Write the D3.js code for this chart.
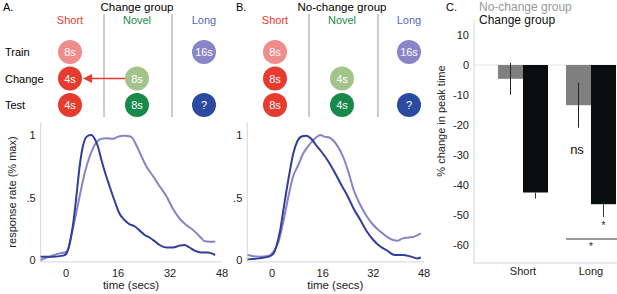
<!DOCTYPE html>
<html>
<head>
<meta charset="utf-8">
<script src="https://cdn.jsdelivr.net/npm/d3@7"></script>
<style>
  body { margin: 0; background: #fff; }
  text { font-family: "Liberation Sans", Arial, sans-serif; }
</style>
</head>
<body>
<svg id="chart" width="617" height="294"></svg>
<script>
// ---- data ----
const columns = ["Short", "Novel", "Long"];
const rows = ["Train", "Change", "Test"];

// [column, row, label]
const changeCells = [
  ["Short", "Train", "8s"], ["Short", "Change", "4s"], ["Short", "Test", "4s"],
  ["Novel", "Change", "8s"], ["Novel", "Test", "8s"],
  ["Long", "Train", "16s"], ["Long", "Test", "?"]
];
const noChangeCells = [
  ["Short", "Train", "8s"], ["Short", "Change", "8s"], ["Short", "Test", "8s"],
  ["Novel", "Change", "4s"], ["Novel", "Test", "4s"],
  ["Long", "Train", "16s"], ["Long", "Test", "?"]
];

const timeTicks = [0, 16, 32, 48];
const rateTicks = [0, 0.5, 1];
const rateTickLabels = ["0", ".5", "1"];

// response curves [time, rate]
const changeShortCurve = [[-7.8,0.027],[-4,0.027],[-0.9,0.035],[0.1,0.05],[1.1,0.13],[2.2,0.29],[3.2,0.51],[4.2,0.75],[5.2,0.91],[6.5,0.99],[7.8,1.0],[8.8,0.97],[9.8,0.91],[10.9,0.8],[11.9,0.71],[13.4,0.59],[15,0.47],[16.5,0.37],[18,0.32],[19.6,0.285],[21.1,0.27],[22.7,0.235],[24.2,0.2],[25.7,0.18],[27.3,0.15],[28.8,0.12],[30.9,0.1],[32.9,0.1],[35,0.115],[36.5,0.12],[38,0.1],[39.6,0.075],[41.6,0.06],[43.7,0.06],[45.9,0.04]];
const changeLongCurve = [[-7.8,0.0],[-5,0.027],[-2,0.053],[-0.4,0.06],[0.6,0.08],[1.6,0.19],[2.7,0.32],[4.2,0.51],[5.7,0.69],[7.3,0.83],[8.8,0.92],[10.4,0.965],[12.4,0.975],[14.5,0.97],[16,0.987],[18,0.995],[19.6,0.99],[20.6,0.97],[21.6,0.92],[23.2,0.83],[24.7,0.75],[26.8,0.67],[28.8,0.59],[30.9,0.51],[32.9,0.41],[35,0.33],[37,0.28],[39.1,0.24],[41.1,0.19],[42.7,0.15],[44.2,0.147],[45.9,0.147]];
const noChangeShortCurve = [[-7.7,0.005],[-4.1,0.013],[-1,0.027],[0.5,0.053],[1.5,0.12],[2.6,0.24],[3.6,0.4],[4.6,0.56],[5.7,0.72],[6.7,0.85],[8,0.95],[9.5,0.99],[10.8,0.995],[12.4,0.97],[13.9,0.92],[15.5,0.87],[17.5,0.8],[19.6,0.71],[21.7,0.61],[23.7,0.52],[25.8,0.41],[27.9,0.32],[29.9,0.23],[32,0.16],[34.1,0.11],[36.1,0.08],[38.7,0.04],[41.3,0.04],[43.9,0.027],[45.9,0.013],[47,0.02]];
const noChangeLongCurve = [[-7.7,0.04],[-4.1,0.027],[-1,0.035],[0.5,0.067],[2.1,0.15],[3.6,0.31],[5.2,0.51],[6.7,0.67],[8.3,0.76],[9.8,0.85],[11.4,0.91],[12.9,0.955],[14.4,0.99],[15.3,1.0],[16.5,0.987],[18.1,0.98],[19.6,0.95],[21.2,0.89],[22.7,0.81],[24.3,0.69],[25.8,0.56],[27.9,0.44],[29.9,0.35],[32,0.28],[34.1,0.23],[36.1,0.19],[38.2,0.16],[39.7,0.155],[41.3,0.173],[43.3,0.18],[44.9,0.187],[47,0.213]];

// panel C
const categories = ["Short", "Long"];
const noChangeValues = [-4.6, -13.4];
const noChangeErrors = [5.3, 7.5];
const changeValues = [-42.5, -46.4];
const changeErrors = [2.0, 4.3];
const peakTicks = [10, 0, -10, -20, -30, -40, -50, -60];

// ---- drawing ----
const svg = d3.select("#chart");
const red = "#e63b2e", green = "#1b8a48", blue = "#5468b2";
const headColor = { Short: red, Novel: green, Long: blue };

function cellColor(col, row) {
  if (col == "Short") return row == "Train" ? "#ef8c8c" : "#e63b2e";
  if (col == "Novel") return row == "Change" ? "#a2c48b" : "#17894a";
  return row == "Train" ? "#8985c6" : "#2c4a9f";
}

var yRow = d3.scalePoint().domain(rows).range([52, 105]);

function drawDesign(opts) {
  var g = svg.append("g");
  var xCol = d3.scalePoint().domain(columns).range(opts.colRange);

  g.append("text").attr("x", opts.letterX).attr("y", 11)
    .style("font-size", "11px").text(opts.letter);
  g.append("text").attr("x", xCol("Novel")).attr("y", 11)
    .attr("text-anchor", "middle").style("font-size", "11.5px").text(opts.title);

  g.selectAll(".head").data(columns).enter().append("text")
    .attr("x", d => xCol(d)).attr("y", 24)
    .attr("text-anchor", "middle").style("font-size", "11px")
    .style("fill", d => headColor[d]).text(d => d);

  g.selectAll(".sep").data(opts.seps).enter().append("line")
    .attr("x1", d => d).attr("x2", d => d).attr("y1", 14).attr("y2", 117)
    .style("stroke", "#9a9a9a").style("stroke-width", 1);

  if (opts.rowLabels) {
    g.selectAll(".row").data(rows).enter().append("text")
      .attr("x", 5).attr("y", d => yRow(d) + 4)
      .style("font-size", "11px").text(d => d);
  }

  var cells = g.selectAll(".cell").data(opts.cells).enter().append("g")
    .attr("transform", d => "translate(" + xCol(d[0]) + "," + yRow(d[1]) + ")");
  cells.append("circle").attr("r", 12).style("fill", d => cellColor(d[0], d[1]));
  cells.append("text").attr("y", 4).attr("text-anchor", "middle")
    .style("font-size", "11px").style("fill", "#fff").text(d => d[2]);

  if (opts.arrow) {
    var ay = yRow("Change");
    var x0 = xCol("Novel") - 12, x1 = xCol("Short") + 13;
    g.append("line").attr("x1", x0).attr("x2", x1 + 8).attr("y1", ay).attr("y2", ay)
      .style("stroke", red).style("stroke-width", 1.5);
    g.append("path")
      .attr("d", "M" + x1 + "," + ay + "L" + (x1 + 9) + "," + (ay - 4.5) + "L" + (x1 + 9) + "," + (ay + 4.5) + "Z")
      .style("fill", red);
  }
}

drawDesign({ letter: "A.", letterX: 3, title: "Change group", colRange: [70, 204],
  seps: [104, 172], cells: changeCells, rowLabels: true, arrow: true });
drawDesign({ letter: "B.", letterX: 236, title: "No-change group", colRange: [275, 409],
  seps: [309, 378], cells: noChangeCells, rowLabels: false, arrow: false });

function drawCurves(opts) {
  var g = svg.append("g");
  var x = d3.scaleLinear().domain([0, 48]).range(opts.xRange);
  var y = d3.scaleLinear().domain([0, 1]).range([260, 135]);
  var axisColor = "#d6d6d6";

  g.append("line").attr("x1", x(-7.8)).attr("x2", x(-7.8)).attr("y1", y(1.1)).attr("y2", y(-0.015))
    .style("stroke", axisColor);
  g.append("line").attr("x1", x(-7.8)).attr("x2", x(48)).attr("y1", y(-0.015)).attr("y2", y(-0.015))
    .style("stroke", axisColor);

  g.selectAll(".xt").data(timeTicks).enter().append("text")
    .attr("x", d => x(d)).attr("y", 277).attr("text-anchor", "middle")
    .style("font-size", "11px").style("fill", "#222").text(d => d);
  g.selectAll(".yt").data(rateTicks).enter().append("text")
    .attr("x", x(-7.8) - 5).attr("y", d => y(d) + 4).attr("text-anchor", "end")
    .style("font-size", "11px").style("fill", "#222").text((d, i) => rateTickLabels[i]);

  g.append("text").attr("x", x(20)).attr("y", 289).attr("text-anchor", "middle")
    .style("font-size", "11.5px").style("fill", "#222").text("time (secs)");

  if (opts.yLabel) {
    g.append("text").attr("transform", "translate(16,192) rotate(-90)")
      .attr("text-anchor", "middle").style("font-size", "11px").style("fill", "#222")
      .text("response rate (% max)");
  }

  var line = d3.line().x(d => x(d[0])).y(d => y(d[1])).curve(d3.curveMonotoneX);
  g.append("path").datum(opts.long).attr("d", line)
    .style("fill", "none").style("stroke", "#8883c6").style("stroke-width", 2);
  g.append("path").datum(opts.short).attr("d", line)
    .style("fill", "none").style("stroke", "#2e3f9d").style("stroke-width", 2);
}

drawCurves({ xRange: [66, 222], short: changeShortCurve, long: changeLongCurve, yLabel: true });
drawCurves({ xRange: [272, 424], short: noChangeShortCurve, long: noChangeLongCurve, yLabel: false });

// panel C
(function() {
  var g = svg.append("g");
  var xc = d3.scalePoint().domain(categories).range([523, 591]);
  var y = d3.scaleLinear().domain([-66, 15]).range([263, 20]);
  var barW = 25;
  var axisColor = "#d6d6d6";

  g.append("text").attr("x", 446).attr("y", 11).style("font-size", "11px").text("C.");
  g.append("text").attr("x", 479).attr("y", 11).style("font-size", "12px")
    .style("fill", "#9a9a9a").text("No-change group");
  g.append("text").attr("x", 479).attr("y", 24).style("font-size", "12px")
    .style("fill", "#111").text("Change group");

  g.append("line").attr("x1", 474).attr("x2", 617).attr("y1", y(0)).attr("y2", y(0))
    .style("stroke", "#e4e4e4");
  g.append("line").attr("x1", 474).attr("x2", 474).attr("y1", y(15)).attr("y2", y(-66))
    .style("stroke", axisColor);
  g.append("line").attr("x1", 474).attr("x2", 617).attr("y1", y(-66)).attr("y2", y(-66))
    .style("stroke", axisColor);

  g.selectAll(".yt").data(peakTicks).enter().append("text")
    .attr("x", 469).attr("y", d => y(d) + 4).attr("text-anchor", "end")
    .style("font-size", "11px").style("fill", "#222").text(d => d);
  g.selectAll(".xt").data(categories).enter().append("text")
    .attr("x", d => xc(d)).attr("y", 275).attr("text-anchor", "middle")
    .style("font-size", "11px").style("fill", "#222").text(d => d);
  g.append("text").attr("transform", "translate(445,121) rotate(-90)")
    .attr("text-anchor", "middle").style("font-size", "11px").style("fill", "#222")
    .text("% change in peak time");

  // grey bars (no-change) with error lines
  g.selectAll(".nc").data(categories).enter().append("rect")
    .attr("x", d => xc(d) - barW).attr("width", barW)
    .attr("y", y(0)).attr("height", (d, i) => y(noChangeValues[i]) - y(0))
    .style("fill", "#7f7f7f");
  g.selectAll(".ncErr").data(categories).enter().append("line")
    .attr("x1", d => xc(d) - barW / 2).attr("x2", d => xc(d) - barW / 2)
    .attr("y1", (d, i) => y(noChangeValues[i] + noChangeErrors[i]))
    .attr("y2", (d, i) => y(noChangeValues[i] - noChangeErrors[i]))
    .style("stroke", "#222").style("stroke-width", 1);

  g.selectAll(".ch").data(categories).enter().append("rect")
    .attr("x", d => xc(d)).attr("width", barW)
    .attr("y", y(0)).attr("height", (d, i) => y(changeValues[i]) - y(0))
    .style("fill", "#0a0d0d");
  g.selectAll(".chErr").data(categories).enter().append("line")
    .attr("x1", d => xc(d) + barW / 2).attr("x2", d => xc(d) + barW / 2)
    .attr("y1", (d, i) => y(changeValues[i]))
    .attr("y2", (d, i) => y(changeValues[i] - changeErrors[i]))
    .style("stroke", "#333").style("stroke-width", 1);

  g.append("text").attr("x", xc("Long") - 14).attr("y", y(-29.5)).attr("text-anchor", "middle")
    .style("font-size", "13px").style("fill", "#111").text("ns");

  g.append("line").attr("x1", xc("Long") - barW).attr("x2", 617).attr("y1", y(-58)).attr("y2", y(-58))
    .style("stroke", "#333").style("stroke-width", 1.2);
  g.append("text").attr("x", xc("Long") + barW / 2).attr("y", y(-54.5)).attr("text-anchor", "middle")
    .style("font-size", "10px").style("fill", "#222").text("*");
  g.append("text").attr("x", xc("Long")).attr("y", y(-61.5)).attr("text-anchor", "middle")
    .style("font-size", "10px").style("fill", "#222").text("*");
})();
</script>
</body>
</html>
